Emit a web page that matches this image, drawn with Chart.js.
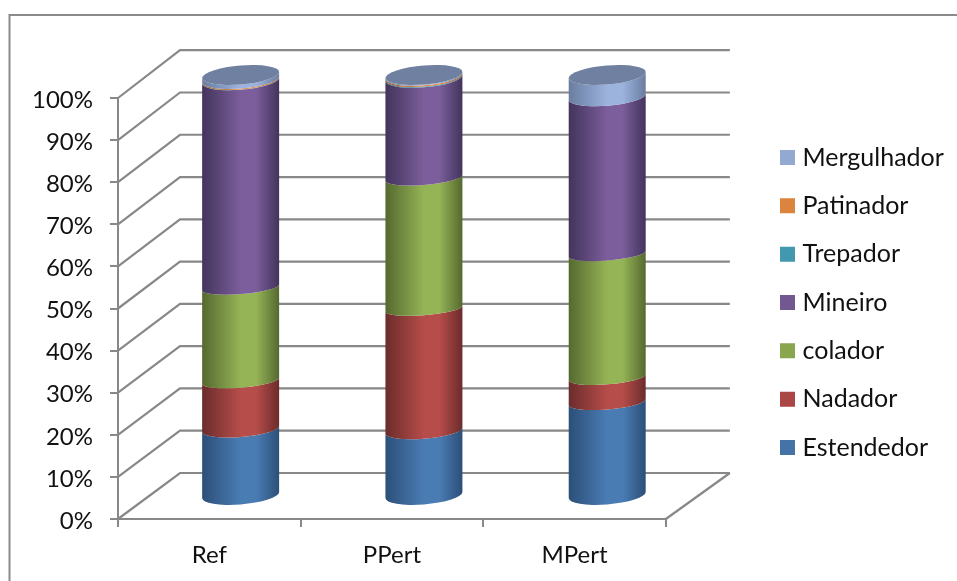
<!DOCTYPE html>
<html>
<head>
<meta charset="utf-8">
<title>Cylinder chart</title>
<script src="https://cdn.jsdelivr.net/npm/chart.js@4"></script>
<style>
  html, body { margin: 0; padding: 0; background: #fff; }
  canvas { display: block; }
</style>
</head>
<body>
<canvas id="chart" width="957" height="581"></canvas>
<script>
const categories = ['Ref', 'PPert', 'MPert'];
const seriesNames = ['Estendedor', 'Nadador', 'colador', 'Mineiro', 'Trepador', 'Patinador', 'Mergulhador'];

const estendedor = [15.9, 15.5, 22.3];
const nadador = [11.5, 29.0, 5.9];
const colador = [22.1, 31.1, 29.3];
const mineiro = [49.2, 23.7, 37.3];
const trepador = [0.05, 0.2, 0];
const patinador = [0.25, 0.3, 0];
const mergulhador = [1.0, 0.2, 5.2];

const seriesValues = [estendedor, nadador, colador, mineiro, trepador, patinador, mergulhador];

// legend swatch, shaded edge and lit centre of each cylinder band
const swatchColors = ['#4573a7', '#aa4643', '#89a54e', '#71588f', '#4198af', '#db843d', '#93a9cf'];
const edgeColors = ['#2c4f78', '#6b2c2b', '#55692f', '#43345c', '#2a6577', '#99592a', '#6a7da0'];
const litColors = ['#4a7cb4', '#b64d4a', '#95b456', '#7b5e9b', '#47a5bf', '#e68e45', '#9cb3de'];
const capColor = '#7080a0';

const LINE_COLOR = '#888888';
const FONT = 'Lato, Carlito, sans-serif';
const DEPTH_X = 62;
const DEPTH_X_SPREAD = 2;
const DEPTH_Y = 46;
const CYLINDER_TILT = 3;
const SWATCH_BORDER = 10;

// half height of an elliptical rim, flatter around the middle of the axis
function rimHeight(y, area) {
  const mid = (area.top + area.bottom) / 2;
  const t = (y - mid) / ((area.bottom - area.top) / 2);
  return 6.5 + 3 * t * t;
}

// sideways shift of a cylinder, the depth opens up slightly towards the right
function cylinderX(bar, area) {
  const t = (bar.x - area.left) / (area.right - area.left);
  return bar.x + DEPTH_X / 2 + DEPTH_X_SPREAD * t;
}

// front half of a rim, or the whole ellipse for the cap
function addRim(ctx, cx, cy, rx, ry, mode) {
  ctx.save();
  ctx.transform(1, -CYLINDER_TILT / rx, 0, 1, cx, cy);
  if (mode === 'full') ctx.ellipse(0, 0, rx, ry, 0, 0, Math.PI * 2);
  else if (mode === 'back') ctx.ellipse(0, 0, rx, ry, 0, 0, Math.PI, false);
  else ctx.ellipse(0, 0, rx, ry, 0, Math.PI, 0, true);
  ctx.restore();
}

function drawWalls(chart) {
  const ctx = chart.ctx;
  const xScale = chart.scales.x;
  const yScale = chart.scales.y;
  const backRight = xScale.right + DEPTH_X + DEPTH_X_SPREAD;
  const height = yScale.bottom - yScale.top;

  ctx.save();
  ctx.strokeStyle = LINE_COLOR;
  ctx.lineWidth = 2.2;
  yScale.ticks.forEach(tick => {
    const y = yScale.getPixelForValue(tick.value);
    // the back wall is a touch taller than the front plane
    const backY = y - DEPTH_Y - 1.8 * (yScale.bottom - y) / height;
    ctx.beginPath();
    ctx.moveTo(xScale.left, y);
    ctx.lineTo(xScale.left + DEPTH_X, backY);
    ctx.lineTo(backRight, backY);
    ctx.stroke();
  });
  // right edge of the floor
  ctx.beginPath();
  ctx.moveTo(xScale.right, yScale.bottom);
  ctx.lineTo(backRight, yScale.bottom - DEPTH_Y);
  ctx.stroke();
  ctx.restore();
}

function drawCylinders(chart) {
  const ctx = chart.ctx;
  const area = chart.chartArea;

  categories.forEach((category, col) => {
    let topBar = null;

    // bottom band first, each band paints over the rim of the one below
    chart.data.datasets.forEach((dataset, i) => {
      const bar = chart.getDatasetMeta(i).data[col];
      if (dataset.data[col] <= 0) return;
      topBar = bar;

      const cx = cylinderX(bar, area);
      const rx = bar.width / 2;
      const yTop = bar.y - DEPTH_Y / 2;
      const yBase = bar.base - DEPTH_Y / 2;

      const shade = ctx.createLinearGradient(cx - rx, 0, cx + rx, 0);
      shade.addColorStop(0, edgeColors[i]);
      shade.addColorStop(0.5, litColors[i]);
      shade.addColorStop(0.7, litColors[i]);
      shade.addColorStop(1, edgeColors[i]);

      ctx.beginPath();
      addRim(ctx, cx, yBase, rx, rimHeight(bar.base, area), 'front');
      addRim(ctx, cx, yTop, rx, rimHeight(bar.y, area), 'back');
      ctx.closePath();
      ctx.fillStyle = shade;
      ctx.fill();
    });

    // flat cap on the top of the stack
    ctx.beginPath();
    addRim(ctx, cylinderX(topBar, area), topBar.y - DEPTH_Y / 2, topBar.width / 2, rimHeight(topBar.y, area), 'full');
    ctx.fillStyle = capColor;
    ctx.fill();
  });
}

const cylinderPlugin = {
  id: 'cylinders',
  beforeDraw(chart) {
    const ctx = chart.ctx;
    // outer frame, open on the right and at the bottom
    ctx.save();
    ctx.strokeStyle = '#8a8a8a';
    ctx.lineWidth = 2;
    ctx.beginPath();
    ctx.moveTo(9.5, chart.height);
    ctx.lineTo(9.5, 15);
    ctx.lineTo(chart.width, 15);
    ctx.stroke();
    ctx.restore();

    // legend column sits away from the plot
    const legend = chart.legend;
    legend.left = 780 + SWATCH_BORDER / 2 - legend.options.labels.padding;
    legend.right = chart.width;
    legend.top = 121.67;
    legend.bottom = chart.height;
  },
  beforeDatasetsDraw(chart) {
    drawWalls(chart);
    drawCylinders(chart);
    return false;
  }
};

new Chart(document.getElementById('chart').getContext('2d'), {
  type: 'bar',
  data: {
    labels: categories,
    datasets: seriesNames.map((name, i) => ({
      label: name,
      data: seriesValues[i],
      backgroundColor: swatchColors[i],
      borderColor: swatchColors[i],
      borderWidth: SWATCH_BORDER,
      categoryPercentage: 1,
      barPercentage: 0.4215
    }))
  },
  plugins: [cylinderPlugin],
  options: {
    responsive: false,
    animation: false,
    layout: { padding: { top: 98, right: 99 } },
    plugins: {
      tooltip: { enabled: false },
      legend: {
        position: 'right',
        align: 'start',
        reverse: true,
        labels: {
          boxWidth: 5,
          boxHeight: 5,
          padding: 23.33,
          color: '#111',
          font: { family: FONT, size: 25 }
        }
      }
    },
    scales: {
      x: {
        stacked: true,
        afterFit(scale) { scale.height = 62; },
        grid: { offset: true, drawOnChartArea: false, color: LINE_COLOR, lineWidth: 2, tickLength: 8 },
        border: { color: LINE_COLOR, width: 2 },
        ticks: { color: '#111', padding: 14, font: { family: FONT, size: 24 } }
      },
      y: {
        stacked: true,
        min: 0,
        max: 100,
        afterFit(scale) { scale.width = 118; },
        grid: { drawOnChartArea: false, color: LINE_COLOR, lineWidth: 2, tickLength: 8 },
        border: { color: LINE_COLOR, width: 2 },
        ticks: {
          stepSize: 10,
          color: '#111',
          padding: 17,
          labelOffset: 2,
          font: { family: FONT, size: 24 },
          callback: value => value + '%'
        }
      }
    }
  }
});
</script>
</body>
</html>
